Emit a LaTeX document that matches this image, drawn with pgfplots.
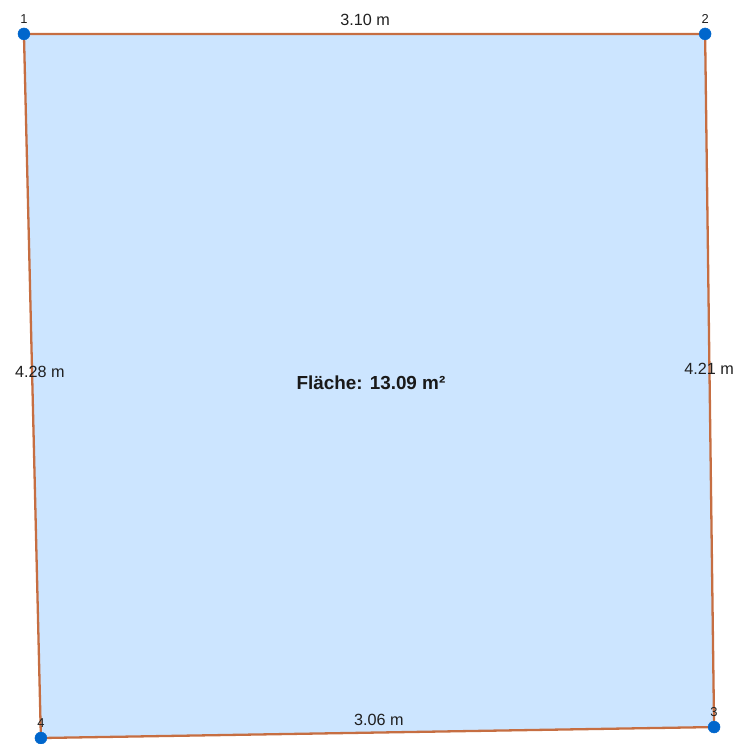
\documentclass[border=0pt]{standalone}
\usepackage{pgfplots}
\pgfplotsset{compat=1.18}
\usepackage{pgfplotstable}
\usepackage{fontspec}
\setmainfont{Liberation Sans}

\definecolor{flaeche}{RGB}{204,229,255}
\definecolor{kante}{RGB}{198,110,66}
\definecolor{punkt}{RGB}{0,102,204}

% polygon corners, pixel coordinates (y downwards)
\pgfplotstableread{
x y
24 34
707 34
716 729
41 740
}\ecken

\pgfplotstableread{
x y label
24 19 1
707 19 2
716 714 3
41 725 4
}\nummern

\pgfplotstableread[col sep=comma]{
x,y,label
366,20,3.10 m
711,370,4.21 m
40,373,4.28 m
380,722,3.06 m
}\seiten

\begin{document}
\begin{tikzpicture}
\begin{axis}[
    x=1bp, y=1bp,
    y dir=reverse,
    xmin=0, xmax=742,
    ymin=0, ymax=744,
    hide axis,
    clip=false,
]
\path[use as bounding box] (rel axis cs:0,0) rectangle (rel axis cs:1,1);

% area
\addplot[fill=flaeche, draw=none] table {\ecken} -- cycle;

% side lengths
\addplot[only marks, mark=none, nodes near coords, point meta=explicit symbolic,
    nodes near coords style={anchor=center, inner sep=0pt, font=\fontsize{16.3}{18}\selectfont, text=black!88}]
    table[meta=label, col sep=comma] {\seiten};

% area label
\addplot[only marks, mark=none, nodes near coords, point meta=explicit symbolic,
    nodes near coords style={anchor=center, inner sep=0pt, font=\bfseries\fontsize{19}{21}\selectfont, text=black!90}]
    coordinates {(372,384) [Fläche: 13.09 m²]};

% corner numbers
\addplot[only marks, mark=none, nodes near coords, point meta=explicit symbolic,
    nodes near coords style={anchor=center, inner sep=0pt, font=\fontsize{13}{15}\selectfont, text=black!88}]
    table[meta=label] {\nummern};

% edges
\addplot[draw=kante, line width=2.3bp, line join=round] table {\ecken} -- cycle;

% corner dots
\addplot[only marks, mark=*, mark size=6bp, mark options={fill=punkt, draw=punkt}] table {\ecken};
\end{axis}
\end{tikzpicture}
\end{document}
